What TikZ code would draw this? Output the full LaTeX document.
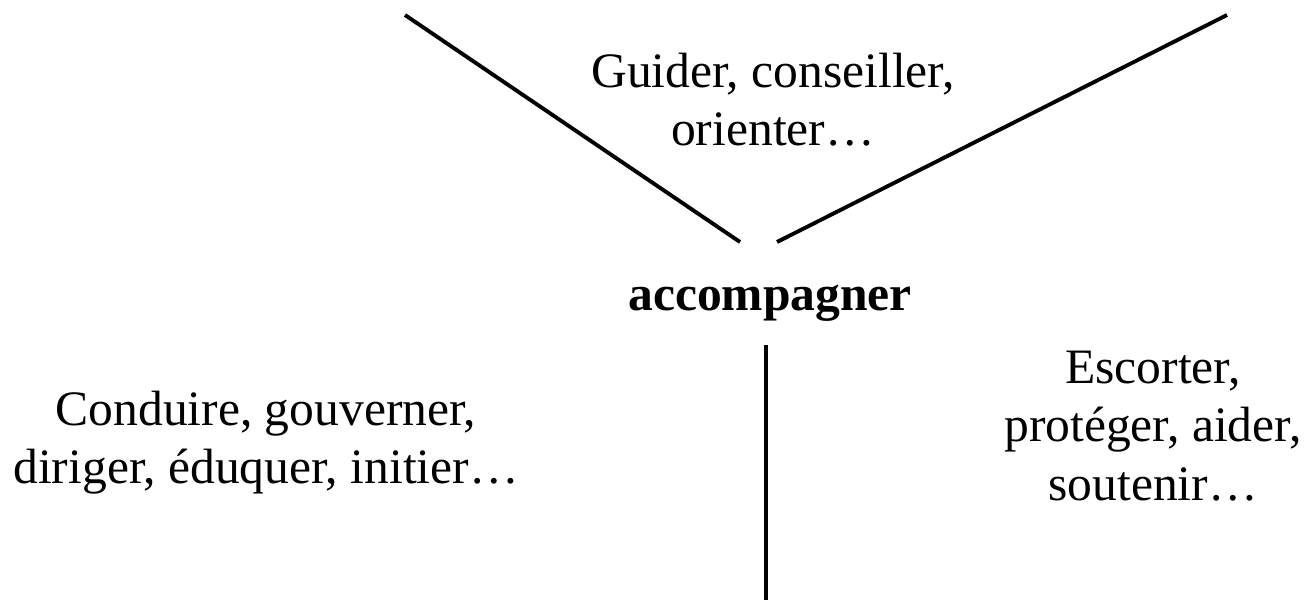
\documentclass[tikz,border=0pt]{standalone}
\usepackage{fontspec}
\setmainfont{Liberation Serif}
\usepackage{tikz}
\usetikzlibrary{positioning}

\begin{document}
\begin{tikzpicture}[%詳細設定
          trait/.style={
              line width=1.1pt
            },mot/.style={
              align=center,
              inner sep=0pt,
              anchor=north,
              font=\fontsize{14.1}{16.7}\selectfont
            }
        ]

        % 枠
        \useasboundingbox (0,0) rectangle (13.08,-6);

        % 中心の語
        \node[mot,anchor=base,font=\fontsize{14.1}{16.7}\selectfont\bfseries] (verbe) at (7.70,-3.10) {accompagner};

        % 周りの語
        \node[mot] (guider) at (7.73,-0.52) {Guider, conseiller,\\orienter\dots};
        \node[mot] (conduire) at (2.66,-3.90) {Conduire, gouverner,\\diriger, éduquer, initier\dots};
        \node[mot] (escorter) at (11.53,-3.50) {Escorter,\\protéger, aider,\\soutenir\dots};

        % 座標の定義
        \coordinate (haut_g) at (4.05,-0.15);
        \coordinate (bas_g) at (7.40,-2.42);
        \coordinate (haut_d) at (12.27,-0.15);
        \coordinate (bas_d) at (7.77,-2.42);
        \coordinate (pied_h) at (7.66,-3.45);
        \coordinate (pied_b) at (7.66,-6.00);

        % 線
        \draw[trait] (haut_g) -- (bas_g);
        \draw[trait] (haut_d) -- (bas_d);
        \draw[trait] (pied_h) -- (pied_b);
      \end{tikzpicture}
\end{document}
